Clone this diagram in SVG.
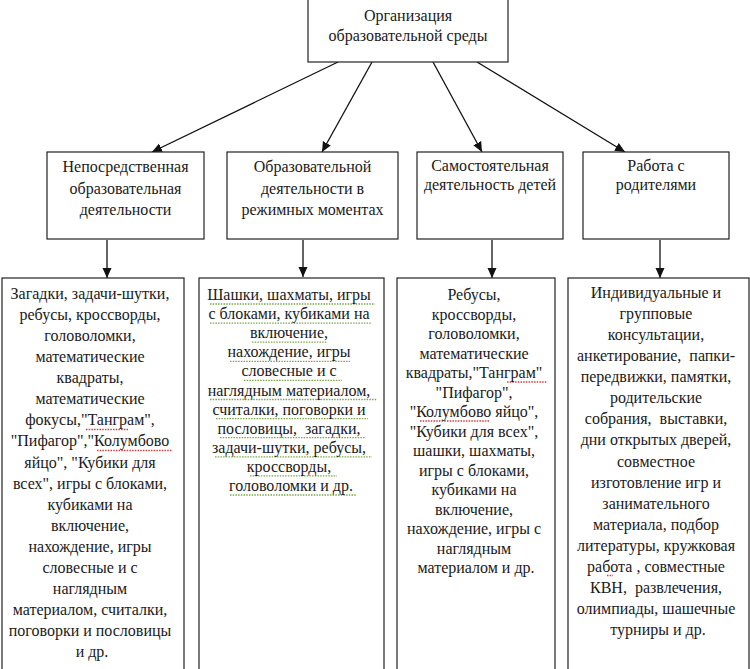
<svg xmlns="http://www.w3.org/2000/svg" width="750" height="669" viewBox="0 0 750 669">
<style>
.box{fill:#fff;stroke:#222;stroke-width:1.2}
.t{font-family:"Liberation Serif","Times New Roman",serif;font-size:16px;fill:#1a1a1a;text-anchor:middle}
.c{stroke:#111;stroke-width:1.3;fill:none}
.g{stroke:#7aa84a;stroke-width:1.3;stroke-dasharray:1.5 1.2;fill:none}
.r{stroke:#d04040;stroke-width:1.3;stroke-dasharray:1.5 1.2;fill:none}
</style>
<defs>
<marker id="ah" viewBox="0 0 10 10" refX="10" refY="5" markerWidth="10" markerHeight="10" markerUnits="userSpaceOnUse" orient="auto">
<path d="M0,0.5 L10,5 L0,9.5 Z" fill="#111"/>
</marker>
</defs>
<rect width="750" height="669" fill="#fff"/>
<g id="connectors">
<line class="c" x1="338" y1="62" x2="152" y2="152" marker-end="url(#ah)"/>
<line class="c" x1="372" y1="62" x2="322" y2="152" marker-end="url(#ah)"/>
<line class="c" x1="433" y1="62" x2="482" y2="152" marker-end="url(#ah)"/>
<line class="c" x1="477" y1="62" x2="625" y2="152" marker-end="url(#ah)"/>
<line class="c" x1="107" y1="240" x2="107" y2="278" marker-end="url(#ah)"/>
<line class="c" x1="303" y1="240" x2="303" y2="277" marker-end="url(#ah)"/>
<line class="c" x1="492" y1="240" x2="492" y2="278" marker-end="url(#ah)"/>
<line class="c" x1="660" y1="240" x2="660" y2="278" marker-end="url(#ah)"/>
</g>
<g id="root">
<rect class="box" x="308" y="-2" width="200" height="64"/>
<text class="t" x="408" y="21">Организация</text>
<text class="t" x="408" y="41">образовательной среды</text>
</g>
<g id="n1">
<rect class="box" x="47" y="152" width="157" height="87"/>
<text class="t" x="125.5" y="172">Непосредственная</text>
<text class="t" x="125.5" y="193.5">образовательная</text>
<text class="t" x="125.5" y="215">деятельности</text>
</g>
<g id="n2">
<rect class="box" x="227" y="152" width="171" height="87"/>
<text class="t" x="312.5" y="172">Образовательной</text>
<text class="t" x="312.5" y="193.5">деятельности в</text>
<text class="t" x="312.5" y="215">режимных моментах</text>
</g>
<g id="n3">
<rect class="box" x="417" y="152" width="146" height="87"/>
<text class="t" x="490" y="171">Самостоятельная</text>
<text class="t" x="490" y="190">деятельность детей</text>
</g>
<g id="n4">
<rect class="box" x="583" y="152" width="146" height="87"/>
<text class="t" x="656" y="171">Работа с</text>
<text class="t" x="656" y="190">родителями</text>
</g>
<g id="b1">
<rect class="box" x="2" y="278" width="182" height="400"/>
<path class="r" d="M86,429.5 H128 M97,450.5 H172"/>
<text class="t" x="92">
<tspan x="92" y="299">Загадки, задачи-шутки,</tspan>
<tspan x="92" y="320.1">ребусы, кроссворды,</tspan>
<tspan x="92" y="341.1">головоломки,</tspan>
<tspan x="92" y="362.2">математические</tspan>
<tspan x="92" y="383.2">квадраты,</tspan>
<tspan x="92" y="404.3">математические</tspan>
<tspan x="92" y="425.4">фокусы,"Танграм",</tspan>
<tspan x="92" y="446.4">"Пифагор","Колумбово</tspan>
<tspan x="92" y="467.5">яйцо", "Кубики для</tspan>
<tspan x="92" y="488.5">всех", игры с блоками,</tspan>
<tspan x="92" y="509.6">кубиками на</tspan>
<tspan x="92" y="530.7">включение,</tspan>
<tspan x="92" y="551.7">нахождение, игры</tspan>
<tspan x="92" y="572.8">словесные и с</tspan>
<tspan x="92" y="593.8">наглядным</tspan>
<tspan x="92" y="614.9">материалом, считалки,</tspan>
<tspan x="92" y="636">поговорки и пословицы</tspan>
<tspan x="92" y="657">и др.</tspan>
</text>
</g>
<g id="b2">
<rect class="box" x="199" y="278" width="185" height="400"/>
<path class="g" d="M210,304 H375 M210,323.1 H372 M252,342.2 H327 M230,361.3 H350 M244,380.4 H342 M210,399.5 H377 M216,418.6 H368 M220,437.7 H365 M215,456.8 H372 M250,475.9 H337 M230,495 H357"/>
<text class="t" x="291">
<tspan x="291" y="300">Шашки, шахматы, игры</tspan>
<tspan x="291" y="319.1">с блоками, кубиками на</tspan>
<tspan x="291" y="338.2">включение,</tspan>
<tspan x="291" y="357.3">нахождение, игры</tspan>
<tspan x="291" y="376.4">словесные и с</tspan>
<tspan x="291" y="395.5">наглядным материалом,</tspan>
<tspan x="291" y="414.6">считалки, поговорки и</tspan>
<tspan x="291" y="433.7">пословицы,&#160; загадки,</tspan>
<tspan x="291" y="452.8">задачи-шутки, ребусы,</tspan>
<tspan x="291" y="471.9">кроссворды,</tspan>
<tspan x="291" y="491">головоломки и др.</tspan>
</text>
</g>
<g id="b3">
<rect class="box" x="397" y="278" width="158" height="400"/>
<path class="r" d="M507,382 H547 M420,421 H490"/>
<text class="t" x="476">
<tspan x="476" y="300">Ребусы,</tspan>
<tspan x="476" y="319.5">кроссворды,</tspan>
<tspan x="476" y="339">головоломки,</tspan>
<tspan x="476" y="358.5">математические</tspan>
<tspan x="476" y="378">квадраты,"Танграм"</tspan>
<tspan x="476" y="397.5">"Пифагор",</tspan>
<tspan x="476" y="417">"Колумбово яйцо",</tspan>
<tspan x="476" y="436.5">"Кубики для всех",</tspan>
<tspan x="476" y="456">шашки, шахматы,</tspan>
<tspan x="476" y="475.5">игры с блоками,</tspan>
<tspan x="476" y="495">кубиками на</tspan>
<tspan x="476" y="514.5">включение,</tspan>
<tspan x="476" y="534">нахождение, игры с</tspan>
<tspan x="476" y="553.5">наглядным</tspan>
<tspan x="476" y="573">материалом и др.</tspan>
</text>
</g>
<g id="b4">
<rect class="box" x="568" y="278" width="181" height="400"/>
<path class="r" d="M607,575.5 H613"/>
<text class="t" x="658">
<tspan x="658" y="298">Индивидуальные и</tspan>
<tspan x="658" y="319.1">групповые</tspan>
<tspan x="658" y="340.1">консультации,</tspan>
<tspan x="658" y="361.2">анкетирование,&#160; папки-</tspan>
<tspan x="658" y="382.2">передвижки, памятки,</tspan>
<tspan x="658" y="403.3">родительские</tspan>
<tspan x="658" y="424.4">собрания,&#160; выставки,</tspan>
<tspan x="658" y="445.4">дни открытых дверей,</tspan>
<tspan x="658" y="466.5">совместное</tspan>
<tspan x="658" y="487.5">изготовление игр и</tspan>
<tspan x="658" y="508.6">занимательного</tspan>
<tspan x="658" y="529.7">материала, подбор</tspan>
<tspan x="658" y="550.7">литературы, кружковая</tspan>
<tspan x="658" y="571.8">работа , совместные</tspan>
<tspan x="658" y="592.8">КВН,&#160; развлечения,</tspan>
<tspan x="658" y="613.9">олимпиады, шашечные</tspan>
<tspan x="658" y="635">турниры и др.</tspan>
</text>
</g>
</svg>
